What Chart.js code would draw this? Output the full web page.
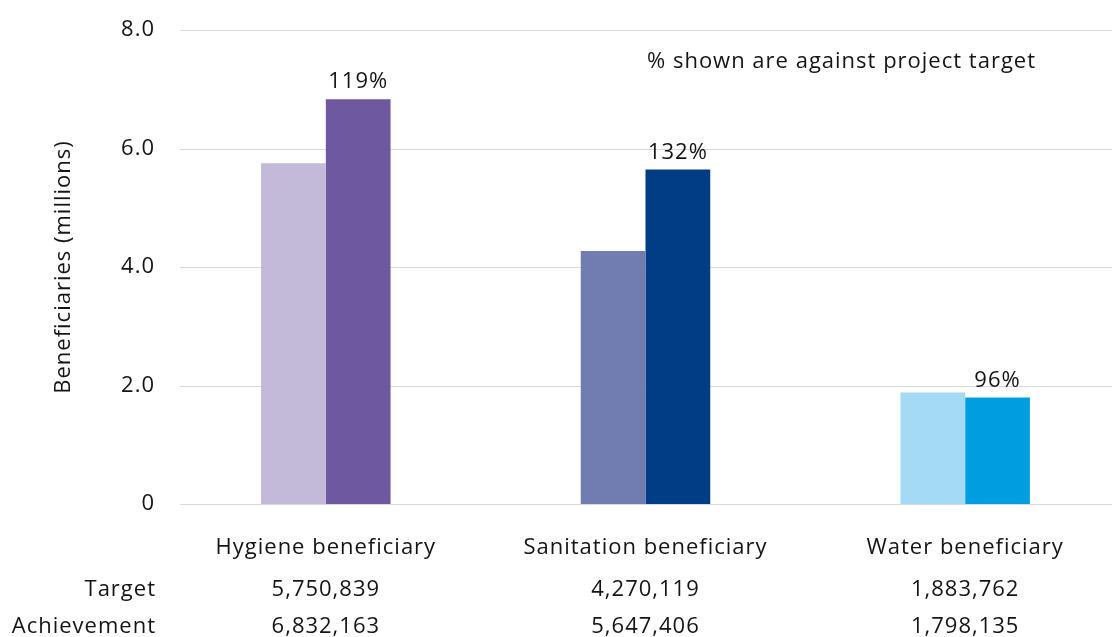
<!DOCTYPE html>
<html>
<head>
<meta charset="utf-8">
<script src="https://cdn.jsdelivr.net/npm/chart.js@4"></script>
<style>
  html, body { margin: 0; padding: 0; background: #fff; overflow: hidden; }
  #wrap { width: 1130px; height: 637px; overflow: hidden; }
</style>
</head>
<body>
<div id="wrap"><canvas id="c" width="1130" height="637"></canvas></div>
<script>
// Beneficiaries by programme area
const categories = ['Hygiene beneficiary', 'Sanitation beneficiary', 'Water beneficiary'];
const targetValues = [5750839, 4270119, 1883762];
const achievementValues = [6832163, 5647406, 1798135];
const percentLabels = ['119%', '132%', '96%'];
const yTicks = [0, 2, 4, 6, 8];

const targetColors = ['#c3b9d9', '#717cb1', '#a4daf3'];
const achievementColors = ['#6e58a0', '#003d85', '#009ee0'];

const FONT = "'Open Sans', 'DejaVu Sans', sans-serif";
const SIZE = 22;
const SPACING = '1px';
const TEXT = '#141414';
const fmt = n => n.toLocaleString('en-US');

// Slightly open tracking for all text on the canvas
const spacingPlugin = {
  id: 'spacing',
  beforeLayout(chart) { chart.ctx.letterSpacing = SPACING; },
  beforeDraw(chart) { chart.ctx.letterSpacing = SPACING; }
};

// Horizontal gridlines, starting a little right of the tick labels
const gridPlugin = {
  id: 'grid',
  beforeDatasetsDraw(chart) {
    const { ctx } = chart;
    const y = chart.scales.y;
    ctx.save();
    ctx.strokeStyle = '#d9d9d9';
    ctx.lineWidth = 1;
    yTicks.forEach(v => {
      const py = Math.round(y.getPixelForValue(v)) + 0.5;
      ctx.beginPath();
      ctx.moveTo(180, py);
      ctx.lineTo(chart.width, py);
      ctx.stroke();
    });
    ctx.restore();
  }
};

// Percent labels, the note, and the target/achievement table under the axis
const textPlugin = {
  id: 'texts',
  afterDraw(chart) {
    const { ctx } = chart;
    const x = chart.scales.x;
    ctx.save();
    ctx.letterSpacing = SPACING;
    ctx.fillStyle = TEXT;
    ctx.font = `${SIZE}px ${FONT}`;

    const meta = chart.getDatasetMeta(1);
    ctx.textAlign = 'center';
    ctx.textBaseline = 'bottom';
    meta.data.forEach((bar, i) => {
      ctx.fillText(percentLabels[i], bar.x, bar.y - 6);
    });

    ctx.textAlign = 'left';
    ctx.textBaseline = 'middle';
    ctx.fillText('% shown are against project target', 647, 62);

    ctx.textAlign = 'right';
    ctx.fillText('Target', 156, 590);
    ctx.fillText('Achievement', 156, 627);

    ctx.textAlign = 'center';
    categories.forEach((c, i) => {
      const px = x.getPixelForValue(i);
      ctx.fillText(fmt(targetValues[i]), px, 590);
      ctx.fillText(fmt(achievementValues[i]), px, 627);
    });
    ctx.restore();
  }
};

new Chart(document.getElementById('c'), {
  type: 'bar',
  data: {
    labels: categories,
    datasets: [
      {
        label: 'Target',
        data: targetValues.map(v => v / 1e6),
        backgroundColor: targetColors,
        categoryPercentage: 0.405,
        barPercentage: 1.0
      },
      {
        label: 'Achievement',
        data: achievementValues.map(v => v / 1e6),
        backgroundColor: achievementColors,
        categoryPercentage: 0.405,
        barPercentage: 1.0
      }
    ]
  },
  options: {
    responsive: false,
    animation: false,
    layout: { padding: { top: 30, right: 5, left: 0, bottom: 0 } },
    plugins: { legend: { display: false }, tooltip: { enabled: false } },
    scales: {
      x: {
        grid: { display: false, drawTicks: false },
        border: { display: false },
        ticks: {
          color: TEXT,
          font: { family: FONT, size: SIZE },
          padding: 31,
          maxRotation: 0,
          autoSkip: false
        },
        afterFit(scale) { scale.height = 133; }
      },
      y: {
        min: 0,
        max: 8,
        afterBuildTicks(scale) { scale.ticks = yTicks.map(v => ({ value: v })); },
        grid: { display: false, drawTicks: false },
        border: { display: false },
        ticks: {
          color: TEXT,
          font: { family: FONT, size: SIZE },
          padding: 11,
          callback: v => (v === 0 ? '0' : v.toFixed(1))
        },
        title: {
          display: true,
          text: 'Beneficiaries (millions)',
          color: TEXT,
          font: { family: FONT, size: SIZE },
          padding: { top: 51, bottom: 0 }
        },
        afterFit(scale) { scale.width = 166; }
      }
    }
  },
  plugins: [spacingPlugin, gridPlugin, textPlugin]
});
</script>
</body>
</html>
